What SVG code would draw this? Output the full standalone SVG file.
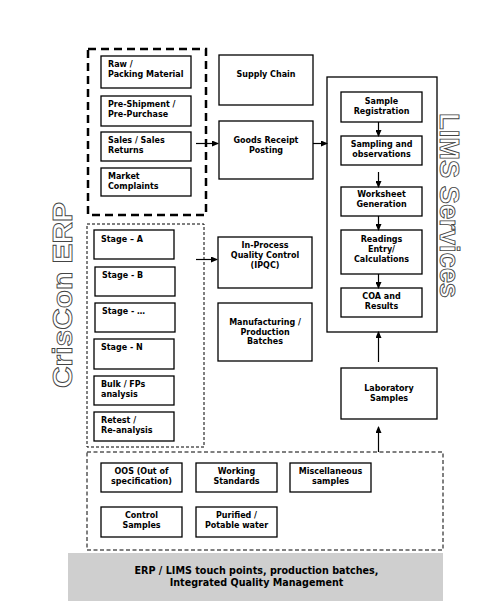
<svg xmlns="http://www.w3.org/2000/svg" width="493" height="607" viewBox="0 0 493 607">
<defs>
<style>
.box{fill:#fff;stroke:#000;stroke-width:1.3}
.t{font-family:"DejaVu Sans",Verdana,sans-serif;font-weight:bold;font-size:8px;fill:#000}
.c{text-anchor:middle}
.con{stroke:#000;stroke-width:1.2;fill:none}
.big{font-family:"Liberation Sans",Arial,sans-serif;font-weight:bold;font-size:28px;fill:#fff;stroke:#444;stroke-width:0.9}
</style>
<marker id="ah" markerWidth="7" markerHeight="6" refX="6" refY="3" orient="auto" markerUnits="userSpaceOnUse">
<path d="M0,0 L7,3 L0,6 Z" fill="#000"/>
</marker>
</defs>
<rect width="493" height="607" fill="#fff"/>

<!-- side titles -->
<text class="big" transform="translate(72,388) rotate(-90)" textLength="186" lengthAdjust="spacingAndGlyphs">CrisCon ERP</text>
<text class="big" transform="translate(440,113) rotate(90)" textLength="185" lengthAdjust="spacingAndGlyphs">LIMS Services</text>

<!-- group containers -->
<rect id="erp-materials" x="88" y="49" width="118" height="166" fill="none" stroke="#000" stroke-width="2.5" stroke-dasharray="8,5"/>
<rect id="erp-stages" x="87" y="224" width="117" height="223" fill="none" stroke="#000" stroke-width="1" stroke-dasharray="3,2"/>
<rect id="erp-others" x="87" y="452" width="356" height="98" fill="none" stroke="#000" stroke-width="1" stroke-dasharray="4,2.5"/>
<rect id="lims" x="327" y="77" width="110" height="255" fill="none" stroke="#000" stroke-width="1.3"/>

<g id="raw"><rect class="box" x="101" y="56" width="90" height="32"/><text class="t" x="108" y="67">Raw /</text><text class="t" x="108" y="77">Packing Material</text></g>
<g id="preship"><rect class="box" x="101" y="96" width="90" height="30"/><text class="t" x="108" y="107">Pre-Shipment /</text><text class="t" x="108" y="117">Pre-Purchase</text></g>
<g id="sales"><rect class="box" x="101" y="132" width="90" height="29"/><text class="t" x="108" y="143">Sales / Sales</text><text class="t" x="108" y="153">Returns</text></g>
<g id="market"><rect class="box" x="101" y="168" width="90" height="28"/><text class="t" x="108" y="179">Market</text><text class="t" x="108" y="189">Complaints</text></g>

<g id="supply"><rect class="box" x="219" y="55" width="94" height="50"/><text class="t c" x="266" y="77">Supply Chain</text></g>
<g id="grn"><rect class="box" x="219" y="121" width="94" height="58"/><text class="t c" x="266" y="143">Goods Receipt</text><text class="t c" x="266" y="153">Posting</text></g>

<g id="samplereg"><rect class="box" x="341" y="92" width="81" height="30"/><text class="t c" x="381.5" y="104">Sample</text><text class="t c" x="381.5" y="114">Registration</text></g>
<g id="sampling"><rect class="box" x="341" y="136" width="81" height="29"/><text class="t c" x="381.5" y="147">Sampling and</text><text class="t c" x="381.5" y="157">observations</text></g>
<g id="worksheet"><rect class="box" x="341" y="187" width="81" height="29"/><text class="t c" x="381.5" y="197">Worksheet</text><text class="t c" x="381.5" y="207">Generation</text></g>
<g id="readings"><rect class="box" x="341" y="230" width="81" height="44"/><text class="t c" x="381.5" y="242">Readings</text><text class="t c" x="381.5" y="252">Entry/</text><text class="t c" x="381.5" y="262">Calculations</text></g>
<g id="coa"><rect class="box" x="341" y="288" width="81" height="29"/><text class="t c" x="381.5" y="299">COA and</text><text class="t c" x="381.5" y="309">Results</text></g>

<g id="stageA"><rect class="box" x="94" y="230" width="80" height="29"/><text class="t" x="101" y="242">Stage – A</text></g>
<g id="stageB"><rect class="box" x="95" y="267" width="80" height="29"/><text class="t" x="102" y="278">Stage - B</text></g>
<g id="stageX"><rect class="box" x="95" y="303" width="80" height="29"/><text class="t" x="102" y="314">Stage - …</text></g>
<g id="stageN"><rect class="box" x="94" y="339" width="80" height="30"/><text class="t" x="101" y="350">Stage - N</text></g>
<g id="bulk"><rect class="box" x="94" y="376" width="80" height="29"/><text class="t" x="101" y="387">Bulk / FPs</text><text class="t" x="101" y="397">analysis</text></g>
<g id="retest"><rect class="box" x="94" y="412" width="80" height="29"/><text class="t" x="101" y="423">Retest /</text><text class="t" x="101" y="433">Re-analysis</text></g>

<g id="ipqc"><rect class="box" x="218" y="237" width="94" height="51"/><text class="t c" x="265" y="248">In-Process</text><text class="t c" x="265" y="258">Quality Control</text><text class="t c" x="265" y="268">(IPQC)</text></g>
<g id="mfg"><rect class="box" x="218" y="303" width="94" height="58"/><text class="t c" x="265" y="325">Manufacturing /</text><text class="t c" x="265" y="335">Production</text><text class="t c" x="265" y="344">Batches</text></g>

<g id="labsamples"><rect class="box" x="341" y="368" width="96" height="51"/><text class="t c" x="389" y="391">Laboratory</text><text class="t c" x="389" y="401">Samples</text></g>

<g id="oos"><rect class="box" x="101" y="463" width="81" height="29"/><text class="t c" x="141.5" y="474">OOS (Out of</text><text class="t c" x="141.5" y="484">specification)</text></g>
<g id="working"><rect class="box" x="196" y="463" width="81" height="29"/><text class="t c" x="236.5" y="474">Working</text><text class="t c" x="236.5" y="484">Standards</text></g>
<g id="misc"><rect class="box" x="290" y="463" width="81" height="29"/><text class="t c" x="330.5" y="474">Miscellaneous</text><text class="t c" x="330.5" y="484">samples</text></g>
<g id="control"><rect class="box" x="101" y="507" width="81" height="30"/><text class="t c" x="141.5" y="518">Control</text><text class="t c" x="141.5" y="528">Samples</text></g>
<g id="water"><rect class="box" x="196" y="507" width="81" height="30"/><text class="t c" x="236.5" y="518">Purified /</text><text class="t c" x="236.5" y="528">Potable water</text></g>

<g id="footer"><rect x="68" y="553" width="375" height="48" fill="#cfcfcf"/><text class="t c" x="256.5" y="574" style="font-size:9.6px">ERP / LIMS touch points, production batches,</text><text class="t c" x="256.5" y="586" style="font-size:9.6px">Integrated Quality Management</text></g>

<g id="connectors">
<line class="con" x1="196" y1="143.5" x2="218" y2="143.5" marker-end="url(#ah)"/>
<line class="con" x1="313" y1="143.5" x2="327" y2="143.5" marker-end="url(#ah)"/>
<line class="con" x1="378.5" y1="122" x2="378.5" y2="136" marker-end="url(#ah)"/>
<line class="con" x1="378.5" y1="172" x2="378.5" y2="187" marker-end="url(#ah)"/>
<line class="con" x1="378.5" y1="216" x2="378.5" y2="230" marker-end="url(#ah)"/>
<line class="con" x1="378.5" y1="274" x2="378.5" y2="288" marker-end="url(#ah)"/>
<line class="con" x1="196" y1="259.5" x2="217" y2="259.5" marker-end="url(#ah)"/>
<line class="con" x1="378.5" y1="362" x2="378.5" y2="332" marker-end="url(#ah)"/>
<line class="con" x1="378.5" y1="452" x2="378.5" y2="427" marker-end="url(#ah)"/>
</g>
</svg>
